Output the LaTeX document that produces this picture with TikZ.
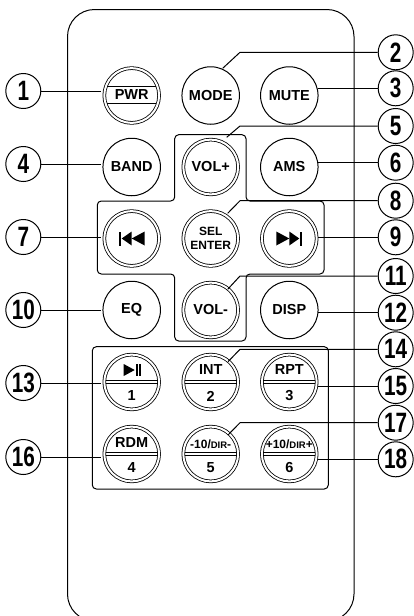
\documentclass[tikz,border=0pt]{standalone}
\usepackage{fontspec}
\setmainfont{Liberation Sans}
\newfontfamily\numfont[FakeStretch=0.74]{Liberation Sans}
\usepackage{xcolor}
\usetikzlibrary{calc}

\begin{document}
\begin{tikzpicture}[x=1pt,y=-1pt,line join=round,line width=1pt,
    num/.style={circle,draw,fill=white,inner sep=0pt,minimum size=35pt,font=\numfont\bfseries\fontsize{28}{28}\selectfont},
    btn/.style={circle,draw,fill=white,inner sep=0pt,minimum size=57.5pt,font=\bfseries\fontsize{14.5}{15}\selectfont},
    dbtn/.style={btn,line width=0.8pt,double,double distance=2pt,minimum size=54.8pt},
    lbl/.style={inner sep=0pt,font=\bfseries\fontsize{14.5}{15}\selectfont},
    lead/.style={line width=1pt},
    band/.style={line width=0.9pt}]
  \useasboundingbox (0,0) rectangle (413,616);
  % body and key panels
  \draw[rounded corners=27pt] (67.5,9.5) rectangle (354,621);
  \draw[rounded corners=4pt] (174.7,201) -- (174.7,134.7) -- (246,134.7) -- (246,201) -- (324,201) -- (324,274)
    -- (246,274) -- (246,341) -- (174.7,341) -- (174.7,274) -- (97.3,274) -- (97.3,201) -- cycle;
  \draw[rounded corners=4pt] (92.3,346.7) rectangle (328.3,489);
  % keys
  \node[dbtn] (bPWR) at (131.7,95.5) {};
  \node[btn] (bMODE) at (210.7,95.5) {MODE};
  \node[btn] (bMUTE) at (289.3,95.5) {MUTE};
  \node[btn] (bBAND) at (131.7,167) {BAND};
  \node[dbtn] (bVOLP) at (210.7,167) {VOL+};
  \node[btn] (bAMS) at (289.3,167) {AMS};
  \node[dbtn] (bPREV) at (131.7,238.5) {};
  \node[dbtn,font=\bfseries\fontsize{12}{14}\selectfont,align=center] (bSEL) at (210.7,238.5) {SEL\\ENTER};
  \node[dbtn] (bNEXT) at (289.3,238.5) {};
  \node[btn] (bEQ) at (131.7,310) {EQ};
  \node[dbtn] (bVOLM) at (210.7,310) {VOL-};
  \node[btn] (bDISP) at (289.3,310) {DISP};
  \node[dbtn] (bONE) at (131.7,382) {};
  \node[dbtn] (bTWO) at (210.7,382) {};
  \node[dbtn] (bTHREE) at (289.3,382) {};
  \node[dbtn] (bFOUR) at (131.7,454) {};
  \node[dbtn] (bFIVE) at (210.7,454) {};
  \node[dbtn] (bSIX) at (289.3,454) {};
  % split keys
  \foreach \k in {bONE,bTWO,bTHREE,bFOUR,bFIVE,bSIX} {
    \draw[band] ($(\k)+(-26,-2)$) -- ($(\k)+(26,-2)$);
    \draw[band] ($(\k)+(-26,1.4)$) -- ($(\k)+(26,1.4)$);
  }
  \draw[band] ($(bPWR)+(-24.6,-9.5)$) -- ($(bPWR)+(24.6,-9.5)$);
  \draw[band] ($(bPWR)+(-24.6,8)$) -- ($(bPWR)+(24.6,8)$);
  \node[lbl] (tPWR) at (131.7,95) {PWR};
  \fill ($(bONE)+(-8,-18)$) -- ($(bONE)+(3,-12)$) -- ($(bONE)+(-8,-6)$) -- cycle;
  \fill ($(bONE)+(4.5,-18)$) rectangle ($(bONE)+(6,-6)$);
  \fill ($(bONE)+(7.5,-18)$) rectangle ($(bONE)+(9,-6)$);
  \node[lbl] (tONE) at (131.7,396) {1};
  \node[lbl] (tINT) at (210.7,370) {INT};
  \node[lbl] (tTWO) at (210.7,396) {2};
  \node[lbl] (tRPT) at (289.3,370) {RPT};
  \node[lbl] (tTHREE) at (289.3,396) {3};
  \node[lbl] (tRDM) at (131.7,443) {RDM};
  \node[lbl] (tFOUR) at (131.7,468) {4};
  \node[lbl,font=\bfseries\fontsize{12}{14}\selectfont] (tDIRM) at (210.7,444) {-10/{\fontsize{9.5}{10}\selectfont DIR}-};
  \node[lbl] (tFIVE) at (210.7,468) {5};
  \node[lbl,font=\bfseries\fontsize{12}{14}\selectfont] (tDIRP) at (289.3,444) {+10/{\fontsize{9.5}{10}\selectfont DIR}+};
  \node[lbl] (tSIX) at (289.3,468) {6};
  % previous and next icons
  \fill ($(bPREV)+(-12.5,-7)$) rectangle ($(bPREV)+(-10.5,7)$);
  \fill ($(bPREV)+(-10,0)$) -- ($(bPREV)+(0,-7)$) -- ($(bPREV)+(0,7)$) -- cycle;
  \fill ($(bPREV)+(0,0)$) -- ($(bPREV)+(13,-7)$) -- ($(bPREV)+(13,7)$) -- cycle;
  \fill ($(bNEXT)+(12.5,-7)$) rectangle ($(bNEXT)+(10.5,7)$);
  \fill ($(bNEXT)+(10,0)$) -- ($(bNEXT)+(0,-7)$) -- ($(bNEXT)+(0,7)$) -- cycle;
  \fill ($(bNEXT)+(0,0)$) -- ($(bNEXT)+(-13,-7)$) -- ($(bNEXT)+(-13,7)$) -- cycle;
  % numbers
  \node[num] (n1) at (23.3,91) {1};
  \node[num] (n4) at (23.3,164) {4};
  \node[num] (n7) at (23.3,237) {7};
  \node[num] (n10) at (23.3,310) {10};
  \node[num] (n13) at (23.3,383) {13};
  \node[num] (n16) at (23.3,457) {16};
  \node[num] (n2) at (395.7,52.3) {2};
  \node[num] (n3) at (395.7,88.3) {3};
  \node[num] (n5) at (395.7,126) {5};
  \node[num] (n6) at (395.7,162.7) {6};
  \node[num] (n8) at (395.7,200.7) {8};
  \node[num] (n9) at (395.7,237.3) {9};
  \node[num] (n11) at (395.7,276) {11};
  \node[num] (n12) at (395.7,312.7) {12};
  \node[num] (n14) at (395.7,349.3) {14};
  \node[num] (n15) at (395.7,386) {15};
  \node[num] (n17) at (395.7,422.7) {17};
  \node[num] (n18) at (395.7,459.3) {18};
  % leaders
  \coordinate (e1) at (100.5,91);
  \coordinate (e4) at (100.5,164);
  \coordinate (e7) at (100.5,237);
  \coordinate (e10) at (100.5,310);
  \coordinate (e13) at (100.5,383);
  \coordinate (e16) at (100.5,457);
  \draw[lead] (n1) -- (e1);
  \draw[lead] (n4) -- (e4);
  \draw[lead] (n7) -- (e7);
  \draw[lead] (n10) -- (e10);
  \draw[lead] (n13) -- (e13);
  \draw[lead] (n16) -- (e16);
  \coordinate (e2) at (222.7,68.3);
  \coordinate (e5) at (226.7,137.3);
  \coordinate (e8) at (227.7,213.3);
  \coordinate (e11) at (227.7,289.3);
  \coordinate (e14) at (228,361.7);
  \coordinate (e17) at (228,435);
  \draw[lead] (n2) -- (240,52.3) -- (e2);
  \draw[lead] (n5) -- (240,126) -- (e5);
  \draw[lead] (n8) -- (240,200.7) -- (e8);
  \draw[lead] (n11) -- (240,276) -- (e11);
  \draw[lead] (n14) -- (240,349.3) -- (e14);
  \draw[lead] (n17) -- (240,422.7) -- (e17);
  \coordinate (e3) at (317.5,88.3);
  \coordinate (e6) at (317.5,162.7);
  \coordinate (e9) at (317.5,237.3);
  \coordinate (e12) at (318,312.7);
  \coordinate (e15) at (318,386);
  \coordinate (e18) at (318,459.3);
  \draw[lead] (n3) -- (e3);
  \draw[lead] (n6) -- (e6);
  \draw[lead] (n9) -- (e9);
  \draw[lead] (n12) -- (e12);
  \draw[lead] (n15) -- (e15);
  \draw[lead] (n18) -- (e18);
\end{tikzpicture}
\end{document}
